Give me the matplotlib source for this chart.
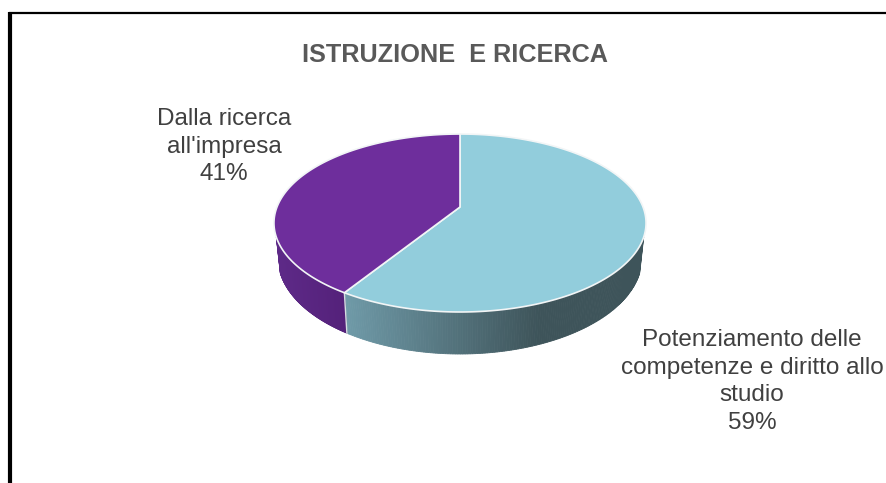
import numpy as np
import matplotlib
matplotlib.use("Agg")
import matplotlib.pyplot as plt
from matplotlib.patches import Polygon
from matplotlib.colors import to_rgb

title = "ISTRUZIONE  E RICERCA"
categories = ["Potenziamento delle\ncompetenze e diritto allo\nstudio", "Dalla ricerca\nall'impresa"]
values = [59, 41]
top_colors = ["#92CDDC", "#6E2E9C"]
side_light = ["#6F9AA8", "#5E2A88"]
side_dark = ["#3E545A", "#54217A"]

plt.rcParams["font.family"] = ["Liberation Sans", "DejaVu Sans"]
fig = plt.figure(figsize=(8.87, 4.83), dpi=100, facecolor="white")
ax = fig.add_axes([0, 0, 1, 1])
ax.set_xlim(0, 887)
ax.set_ylim(483, 0)
ax.axis("off")

# perspective projection of the pie disc
K = 0.18
CX = 460.0
def project(t, A, B, cy):
    u, v = np.sin(t), np.cos(t)
    d = 1 + K * v
    return CX + A * u / d, cy - B * v / d

TOP = (183.0, 86.1, 207.0)
BOT = (179.0, 92.9, 240.7)

fractions = np.cumsum([0] + values) / sum(values)
angles = fractions * 2 * np.pi
horizon_r = np.radians(109.1)
horizon_l = np.radians(250.9)
grad_end_x = 537.0
grad_start_x = [347.0, 276.0]

def lerp(c0, c1, f):
    a, b = np.array(to_rgb(c0)), np.array(to_rgb(c1))
    return tuple(a + (b - a) * np.clip(f, 0, 1))

# side wall, sliced so colour can vary
for i in range(len(values)):
    t0 = max(angles[i], horizon_r)
    t1 = min(angles[i + 1], horizon_l)
    ts = np.linspace(t0, t1, 160)
    for a, b in zip(ts[:-1], ts[1:]):
        tt = np.linspace(a, b, 3)
        xt, yt = project(tt, *TOP)
        xb, yb = project(tt, *BOT)
        xm = xb.mean()
        if i == 0:
            f = (xm - grad_start_x[0]) / (grad_end_x - grad_start_x[0])
            col = lerp(side_light[0], side_dark[0], f)
        else:
            f = (xm - grad_start_x[1]) / (347.0 - grad_start_x[1])
            col = lerp(side_light[1], side_dark[1], f)
        ax.add_patch(Polygon(np.r_[np.c_[xt, yt], np.c_[xb, yb][::-1]],
                             closed=True, fc=col, ec=col, lw=0.6, zorder=2))
xt0, yt0 = project(angles[1], *TOP)
xb0, yb0 = project(angles[1], *BOT)
ax.plot([xt0, xb0], [yt0, yb0], color="#D5DDE0", lw=1.0, zorder=3)

# top faces
for i in range(len(values)):
    ts = np.linspace(angles[i], angles[i + 1], 300)
    x, y = project(ts, *TOP)
    pts = np.r_[[[CX, TOP[2]]], np.c_[x, y]]
    ax.add_patch(Polygon(pts, closed=True, fc=top_colors[i], ec="#F2F5F6",
                         lw=1.2, joinstyle="round", zorder=4))

# frame
ax.plot([10, 887], [13, 13], color="black", lw=1.6, zorder=1, clip_on=False)
ax.plot([10, 10], [483, 12.2], color="black", lw=3.0, zorder=1, solid_capstyle="butt")

# text
ax.text(455, 55, title, ha="center", va="center", fontsize=18.2,
        fontweight="bold", color="#595959", zorder=6)
ax.text(224, 146.5, f"{categories[1]}\n{values[1]}%", ha="center", va="center",
        fontsize=17.5, color="#404040", linespacing=1.32, zorder=6)
ax.text(752, 381.5, f"{categories[0]}\n{values[0]}%", ha="center", va="center",
        fontsize=17.5, color="#404040", linespacing=1.32, zorder=6)

fig.savefig("out.png", dpi=100, facecolor="white")
